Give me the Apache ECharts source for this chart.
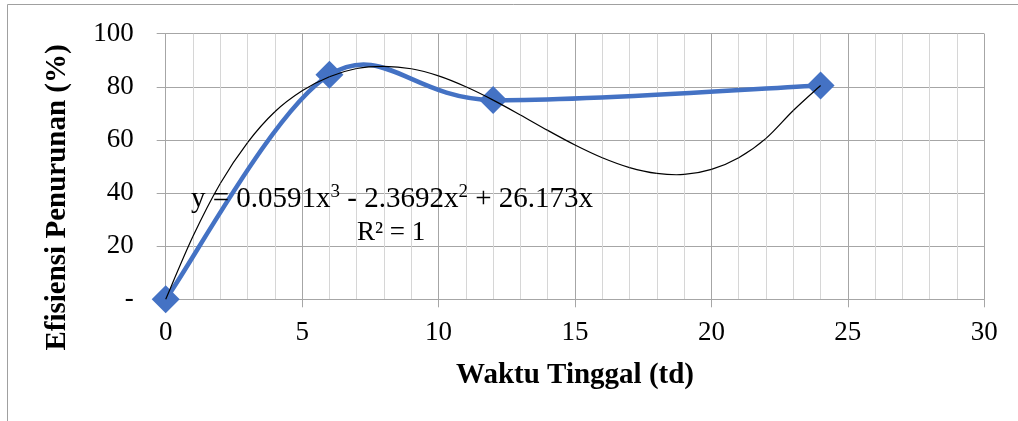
<!DOCTYPE html>
<html>
<head>
<meta charset="utf-8">
<script src="https://cdn.jsdelivr.net/npm/echarts@6/dist/echarts.min.js"></script>
<style>
html,body{margin:0;padding:0;background:#fff;}
#chart{width:1018px;height:421px;}
</style>
</head>
<body>
<div id="chart"></div>
<script>
// Data
const waktuTinggal = [0, 6, 12, 24];
const efisiensi = [0, 84.5, 75, 80.5];
// Polynomial trendline, points
const trendX = [0, 1, 2, 3, 4, 5, 6, 7, 8, 9, 10, 11, 12, 13, 14, 15, 16, 17, 18, 19, 20, 21, 22, 23, 24];
const trendY = [0, 23.7, 43.6, 59, 70.6, 78.5, 83.8, 86.9, 87.7, 86.8, 84.1, 80, 75, 69.4, 63.6, 58.1, 53.3, 49.6, 47.4, 47, 48.9, 53.3, 60.6, 71.1, 80.5];
const yTicks = [0, 20, 40, 60, 80, 100];
const yTickLabels = ['-', '20', '40', '60', '80', '100'];
const xTitle = 'Waktu Tinggal (td)';
const yTitle = 'Efisiensi Penurunan (%)';
// equation "y = 0.0591x³ - 2.3692x² + 26.173x" in parts: [text, isSuperscript]
const equationParts = [['y = 0.0591x', false], ['3', true], [' - 2.3692x', false], ['2', true], [' + 26.173x', false]];
const r2Text = 'R² = 1';

const serif = '"Liberation Serif", "Times New Roman", serif';
const majorGrid = '#a6a6a6';
const minorGrid = '#d6d6d6';

// Smooth curve (Excel-like Catmull-Rom, tension 1/6) through pixel points from api.coord
function smoothCurve(xs, ys, api, style) {
  const pts = xs.map((x, i) => api.coord([x, ys[i]]));
  const children = [];
  for (let i = 0; i < pts.length - 1; i++) {
    const p0 = pts[Math.max(i - 1, 0)], p1 = pts[i], p2 = pts[i + 1], p3 = pts[Math.min(i + 2, pts.length - 1)];
    children.push({
      type: 'bezierCurve',
      shape: {
        x1: p1[0], y1: p1[1], x2: p2[0], y2: p2[1],
        cpx1: p1[0] + (p2[0] - p0[0]) / 6, cpy1: p1[1] + (p2[1] - p0[1]) / 6,
        cpx2: p2[0] - (p3[0] - p1[0]) / 6, cpy2: p2[1] - (p3[1] - p1[1]) / 6
      },
      style: Object.assign({fill: null}, style)
    });
  }
  return {type: 'group', children};
}

const eqRich = equationParts.map(([t, sup]) => '{' + (sup ? 's' : 'n') + '|' + t + '}').join('');

const chart = echarts.init(document.getElementById('chart'), null, {renderer: 'canvas'});
chart.setOption({
  animation: false,
  backgroundColor: '#fff',
  grid: {left: 165.7, right: 33.7, top: 33.7, bottom: 121.7, containLabel: false},
  xAxis: {
    type: 'value', min: 0, max: 30, interval: 5,
    name: xTitle, nameLocation: 'middle', nameGap: 62,
    nameTextStyle: {fontFamily: serif, fontSize: 29, fontWeight: 'bold', color: '#000'},
    axisLine: {show: true, lineStyle: {color: majorGrid, width: 1}},
    axisTick: {show: true, length: 8, lineStyle: {color: majorGrid}},
    axisLabel: {fontFamily: serif, fontSize: 27, color: '#000', margin: 20},
    splitLine: {show: true, lineStyle: {color: majorGrid, width: 1}},
    minorTick: {show: false, splitNumber: 5},
    minorSplitLine: {show: true, lineStyle: {color: minorGrid, width: 1}}
  },
  yAxis: {
    type: 'value', min: 0, max: 100, interval: 20,
    axisLine: {show: true, lineStyle: {color: majorGrid, width: 1}},
    axisTick: {show: true, length: 9, lineStyle: {color: majorGrid}},
    axisLabel: {fontFamily: serif, fontSize: 27, color: '#000', margin: 32,
      formatter: v => yTickLabels[yTicks.indexOf(v)] ?? String(v)},
    splitLine: {show: true, lineStyle: {color: majorGrid, width: 1}}
  },
  series: [
    {
      type: 'custom', name: 'trend', z: 4,
      data: trendX.map((x, i) => [x, trendY[i]]),
      encode: {x: 0, y: 1},
      renderItem: (params, api) => params.dataIndex === 0
        ? smoothCurve(trendX, trendY, api, {stroke: '#000', lineWidth: 1.2})
        : null
    },
    {
      type: 'custom', name: 'efisiensiLine', z: 2,
      data: waktuTinggal.map((x, i) => [x, efisiensi[i]]),
      encode: {x: 0, y: 1},
      renderItem: (params, api) => params.dataIndex === 0
        ? smoothCurve(waktuTinggal, efisiensi, api, {stroke: '#4472C4', lineWidth: 4.5, lineCap: 'round', lineJoin: 'round'})
        : null
    },
    {
      type: 'scatter', name: 'efisiensi', z: 3,
      data: waktuTinggal.map((x, i) => [x, efisiensi[i]]),
      symbol: 'diamond', symbolSize: 28,
      itemStyle: {color: '#4472C4', opacity: 1}
    }
  ],
  graphic: [
    {type: 'rect', shape: {x: 7.5, y: 4.5, width: 1100, height: 500}, style: {fill: 'none', stroke: '#a0a0a0', lineWidth: 1}, z: -1},
    {type: 'text', x: 58, y: 197.5, rotation: Math.PI / 2, z: 10,
      style: {text: yTitle, font: 'bold 29px ' + serif, fill: '#000', align: 'center', verticalAlign: 'middle'}},
    {type: 'text', left: 191, top: 183, z: 10,
      style: {text: eqRich, fill: '#000',
        rich: {
          n: {fontFamily: serif, fontSize: 29, color: '#000', verticalAlign: 'bottom', lineHeight: 31},
          s: {fontFamily: serif, fontSize: 19, color: '#000', verticalAlign: 'top', lineHeight: 31}
        }}},
    {type: 'text', left: 357, top: 219, z: 10, style: {text: r2Text, font: '27px ' + serif, fill: '#000'}}
  ]
});
</script>
</body>
</html>
